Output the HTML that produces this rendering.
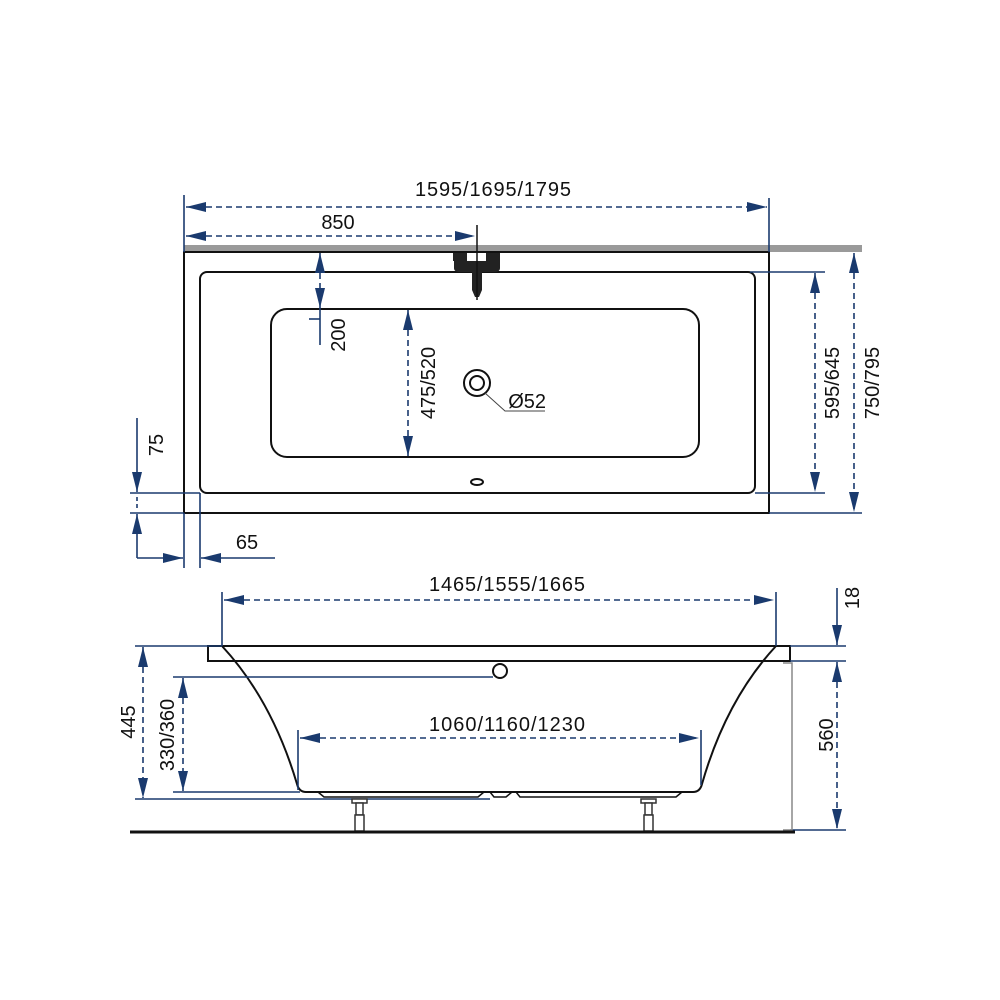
<!DOCTYPE html>
<html><head><meta charset="utf-8"><style>html,body{margin:0;padding:0;background:#fff}svg{display:block}</style></head><body>
<svg width="1000" height="1000" viewBox="0 0 1000 1000" xmlns="http://www.w3.org/2000/svg" font-family="Liberation Sans, DejaVu Sans, sans-serif" font-size="20" fill="none">
<defs>
<marker id="a" viewBox="0 0 20 10" refX="20" refY="5" markerWidth="20" markerHeight="10" markerUnits="userSpaceOnUse" orient="auto-start-reverse"><path d="M0,0 L20,5 L0,10 Z" fill="#1a3a6e"/></marker>
</defs>
<rect x="184" y="245" width="678" height="7" fill="#9a9a9a"/>
<rect x="184" y="252" width="585" height="261" stroke="#111" stroke-width="2"/>
<rect x="200" y="272" width="555" height="221" rx="7" stroke="#111" stroke-width="2"/>
<rect x="271" y="309" width="428" height="148" rx="16" stroke="#111" stroke-width="2"/>
<g fill="#222">
<rect x="453" y="253" width="14" height="8"/><rect x="486" y="253" width="14" height="8"/>
<path d="M454,261 H500 V268 Q500,272 494,272 H482 V290 L479,297 H475 L472,290 V272 H460 Q454,272 454,268 Z"/>
</g>
<line x1="477" y1="225" x2="477" y2="300" stroke="#111" stroke-width="1.5"/>
<circle cx="477" cy="383" r="13" stroke="#111" stroke-width="2"/>
<circle cx="477" cy="383" r="7" stroke="#111" stroke-width="2"/>
<path d="M485,393 L505,411 H545" stroke="#444" stroke-width="1"/>
<ellipse cx="477" cy="482" rx="6" ry="3" stroke="#111" stroke-width="2"/>
<g stroke="#1a3a6e" stroke-width="1.6">
<line x1="184" y1="195" x2="184" y2="252"/>
<line x1="769" y1="198" x2="769" y2="252"/>
<line x1="186" y1="207" x2="767" y2="207" stroke-dasharray="6,4" marker-start="url(#a)" marker-end="url(#a)"/>
<line x1="186" y1="236" x2="475" y2="236" stroke-dasharray="6,4" marker-start="url(#a)" marker-end="url(#a)"/>
<line x1="320" y1="253" x2="320" y2="308" stroke-dasharray="6,4" marker-start="url(#a)" marker-end="url(#a)"/>
<line x1="320" y1="308" x2="320" y2="345"/><line x1="309" y1="319" x2="320" y2="319"/>
<line x1="408" y1="310" x2="408" y2="456" stroke-dasharray="6,4" marker-start="url(#a)" marker-end="url(#a)"/>
<line x1="750" y1="272" x2="825" y2="272"/><line x1="755" y1="493" x2="825" y2="493"/>
<line x1="815" y1="273" x2="815" y2="492" stroke-dasharray="6,4" marker-start="url(#a)" marker-end="url(#a)"/>
<line x1="769" y1="513" x2="862" y2="513"/>
<line x1="854" y1="253" x2="854" y2="512" stroke-dasharray="6,4" marker-start="url(#a)" marker-end="url(#a)"/>
<line x1="130" y1="493" x2="200" y2="493"/><line x1="130" y1="513" x2="184" y2="513"/>
<line x1="137" y1="418" x2="137" y2="492" marker-end="url(#a)"/>
<line x1="137" y1="497" x2="137" y2="509" stroke-dasharray="4,3"/>
<line x1="137" y1="558" x2="137" y2="514" marker-end="url(#a)"/>
<line x1="137" y1="558" x2="183" y2="558" marker-end="url(#a)"/>
<line x1="275" y1="558" x2="201" y2="558" marker-end="url(#a)"/>
<line x1="184" y1="513" x2="184" y2="568"/><line x1="200" y1="493" x2="200" y2="568"/>
</g>
<path d="M222,646 Q272,700 297,784 Q299,792 306,792 H693 Q700,792 702,784 Q726,700 776,646" stroke="#111" stroke-width="2"/>
<rect x="208" y="646" width="582" height="15" stroke="#111" stroke-width="2"/>
<path d="M318,792 L324,797 H478 L484,792 M490,792 L494,797 H506 L512,792 M516,792 L520,797 H676 L682,792" stroke="#111" stroke-width="1.5"/>
<circle cx="500" cy="671" r="7" stroke="#111" stroke-width="2" fill="#fff"/>
<g stroke="#1a3a6e" stroke-width="1.6">
<line x1="173" y1="677" x2="493" y2="677"/>
<line x1="173" y1="792" x2="300" y2="792"/>
<line x1="135" y1="646" x2="222" y2="646"/>
<line x1="135" y1="799" x2="490" y2="799"/>
<line x1="222" y1="592" x2="222" y2="646"/><line x1="776" y1="592" x2="776" y2="646"/>
<line x1="224" y1="600" x2="774" y2="600" stroke-dasharray="6,4" marker-start="url(#a)" marker-end="url(#a)"/>
<line x1="298" y1="730" x2="298" y2="790"/><line x1="701" y1="730" x2="701" y2="785"/>
<line x1="300" y1="738" x2="699" y2="738" stroke-dasharray="6,4" marker-start="url(#a)" marker-end="url(#a)"/>
<line x1="183" y1="678" x2="183" y2="791" stroke-dasharray="6,4" marker-start="url(#a)" marker-end="url(#a)"/>
<line x1="143" y1="647" x2="143" y2="798" stroke-dasharray="6,4" marker-start="url(#a)" marker-end="url(#a)"/>
<line x1="790" y1="646" x2="846" y2="646"/><line x1="790" y1="661" x2="846" y2="661"/><line x1="790" y1="830" x2="846" y2="830"/>
<line x1="837" y1="588" x2="837" y2="645" marker-end="url(#a)"/>
<line x1="837" y1="662" x2="837" y2="829" stroke-dasharray="6,4" marker-start="url(#a)" marker-end="url(#a)"/>
</g>
<path d="M783,663 H792 V830 H783" stroke="#888" stroke-width="1.5"/>
<g stroke="#333" stroke-width="1.5" fill="#fff">
<rect x="352" y="799" width="15" height="4"/><rect x="356" y="803" width="7" height="12"/><rect x="355" y="815" width="9" height="16"/>
<rect x="641" y="799" width="15" height="4"/><rect x="645" y="803" width="7" height="12"/><rect x="644" y="815" width="9" height="16"/>
</g>
<line x1="130" y1="832" x2="795" y2="832" stroke="#111" stroke-width="3"/>
<g fill="#111">
<text x="493" y="196" text-anchor="middle" textLength="156">1595/1695/1795</text>
<text x="338" y="229" text-anchor="middle">850</text>
<text x="546" y="408" text-anchor="end">Ø52</text>
<text x="247" y="549" text-anchor="middle">65</text>
<text transform="translate(345,335) rotate(-90)" text-anchor="middle">200</text>
<text transform="translate(435,383) rotate(-90)" text-anchor="middle">475/520</text>
<text transform="translate(839,383) rotate(-90)" text-anchor="middle">595/645</text>
<text transform="translate(879,383) rotate(-90)" text-anchor="middle">750/795</text>
<text transform="translate(163,445) rotate(-90)" text-anchor="middle">75</text>
<text x="507" y="591" text-anchor="middle" textLength="156">1465/1555/1665</text>
<text x="507" y="731" text-anchor="middle" textLength="156">1060/1160/1230</text>
<text transform="translate(135,722) rotate(-90)" text-anchor="middle">445</text>
<text transform="translate(174,735) rotate(-90)" text-anchor="middle">330/360</text>
<text transform="translate(833,735) rotate(-90)" text-anchor="middle">560</text>
<text transform="translate(859,598) rotate(-90)" text-anchor="middle">18</text>
</g>
</svg>
</body></html>
